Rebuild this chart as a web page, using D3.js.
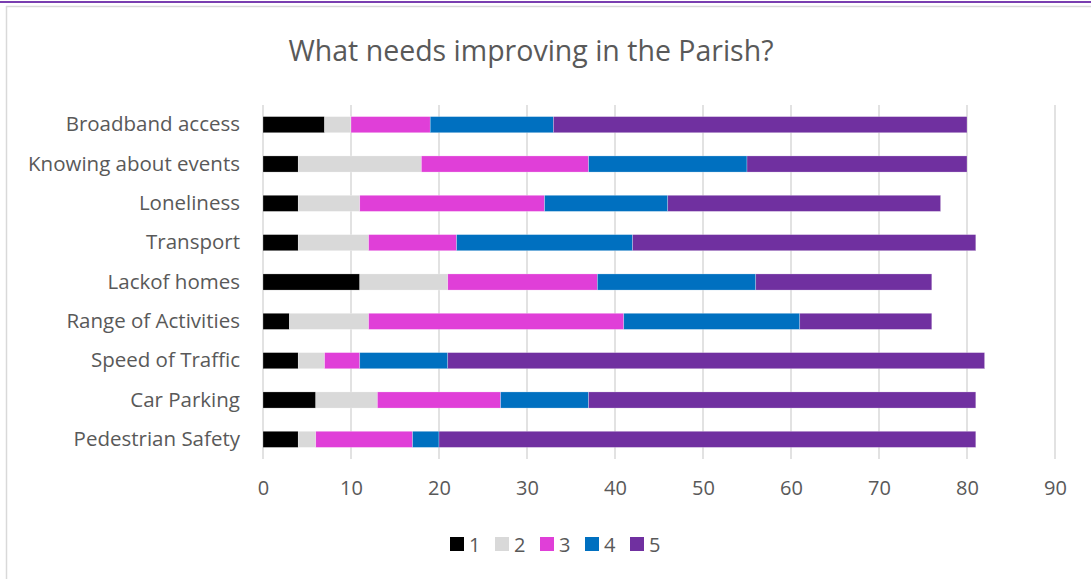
<!DOCTYPE html>
<html>
<head>
<meta charset="utf-8">
<script src="https://cdn.jsdelivr.net/npm/d3@7"></script>
<style>
  body { margin: 0; background: #fff; }
  svg { display: block; font-family: "Open Sans", sans-serif; }
</style>
</head>
<body>
<svg width="1091" height="579"></svg>
<script>
// survey answers, one array per rating
const categories = ["Broadband access", "Knowing about events", "Loneliness", "Transport",
    "Lackof homes", "Range of Activities", "Speed of Traffic", "Car Parking", "Pedestrian Safety"];
const rating1 = [7, 4, 4, 4, 11, 3, 4, 6, 4];
const rating2 = [3, 14, 7, 8, 10, 9, 3, 7, 2];
const rating3 = [9, 19, 21, 10, 17, 29, 4, 14, 11];
const rating4 = [14, 18, 14, 20, 18, 20, 10, 10, 3];
const rating5 = [47, 25, 31, 39, 20, 15, 61, 44, 61];
const seriesNames = ["1", "2", "3", "4", "5"];
const xTicks = [0, 10, 20, 30, 40, 50, 60, 70, 80, 90];

document.addEventListener("DOMContentLoaded", function(){
    let svg = d3.select("svg");
    let colors = ["#000000", "#d9d9d9", "#e03fd8", "#0070c0", "#7030a0"];

    // frame bits from the original screenshot
    svg.append("rect").attr("x", 0).attr("y", 1).attr("width", 1091).attr("height", 2).style("fill", "#7a3fb0");
    svg.append("line").attr("x1", 6).attr("x2", 1091).attr("y1", 6.5).attr("y2", 6.5).style("stroke", "#d9d9d9").style("stroke-width", 1.5);
    svg.append("line").attr("x1", 6.5).attr("x2", 6.5).attr("y1", 6).attr("y2", 579).style("stroke", "#d9d9d9").style("stroke-width", 1.5);

    let rows = categories.map(function(c, i) {
        return {cat: c, "1": rating1[i], "2": rating2[i], "3": rating3[i], "4": rating4[i], "5": rating5[i]};
    });
    let stacked = d3.stack().keys(seriesNames)(rows);

    let x = d3.scaleLinear().domain([0, 90]).range([263, 1055]);
    let y = d3.scaleBand().domain(categories).range([105, 459]).paddingInner(0.59).paddingOuter(0.295);

    // gridlines
    svg.append("g").selectAll("line")
        .data(xTicks)
        .enter().append("line")
        .attr("x1", d => x(d)).attr("x2", d => x(d))
        .attr("y1", 105).attr("y2", 459)
        .style("stroke", "#d9d9d9").style("stroke-width", 1.5);

    svg.append("g").selectAll("g")
        .data(stacked)
        .enter().append("g")
        .style("fill", (d, i) => colors[i])
        .selectAll("rect")
        .data(d => d)
        .enter().append("rect")
        .attr("x", d => x(d[0]))
        .attr("width", d => x(d[1]) - x(d[0]))
        .attr("y", d => y(d.data.cat))
        .attr("height", y.bandwidth())
        .style("stroke", "#ffffff").style("stroke-width", 0.5).style("stroke-opacity", 0.5);

    // x axis labels
    let xAxis = svg.append("g")
        .attr("transform", "translate(0,459)")
        .call(d3.axisBottom(x).tickValues(xTicks).tickSize(0).tickPadding(22));
    xAxis.select(".domain").remove();
    xAxis.selectAll("text").style("font-size", "20px").style("fill", "#595959").style("font-family", "Open Sans, sans-serif");

    // category labels
    let yAxis = svg.append("g")
        .attr("transform", "translate(240,0)")
        .call(d3.axisLeft(y).tickSize(0).tickPadding(0));
    yAxis.select(".domain").remove();
    yAxis.selectAll("text").style("font-size", "20.5px").style("fill", "#595959").style("font-family", "Open Sans, sans-serif");

    svg.append("text")
        .attr("x", 531).attr("y", 61)
        .attr("text-anchor", "middle")
        .style("font-size", "28.5px").style("fill", "#595959")
        .text("What needs improving in the Parish?");

    // legend
    let legend = svg.append("g").selectAll("g")
        .data(seriesNames)
        .enter().append("g")
        .attr("transform", (d, i) => "translate(" + (450 + i * 45) + ",537)");
    legend.append("rect").attr("width", 14).attr("height", 14).style("fill", (d, i) => colors[i]);
    legend.append("text").attr("x", 19).attr("y", 15)
        .style("font-size", "20px").style("fill", "#595959")
        .text(d => d);
});
</script>
</body>
</html>
